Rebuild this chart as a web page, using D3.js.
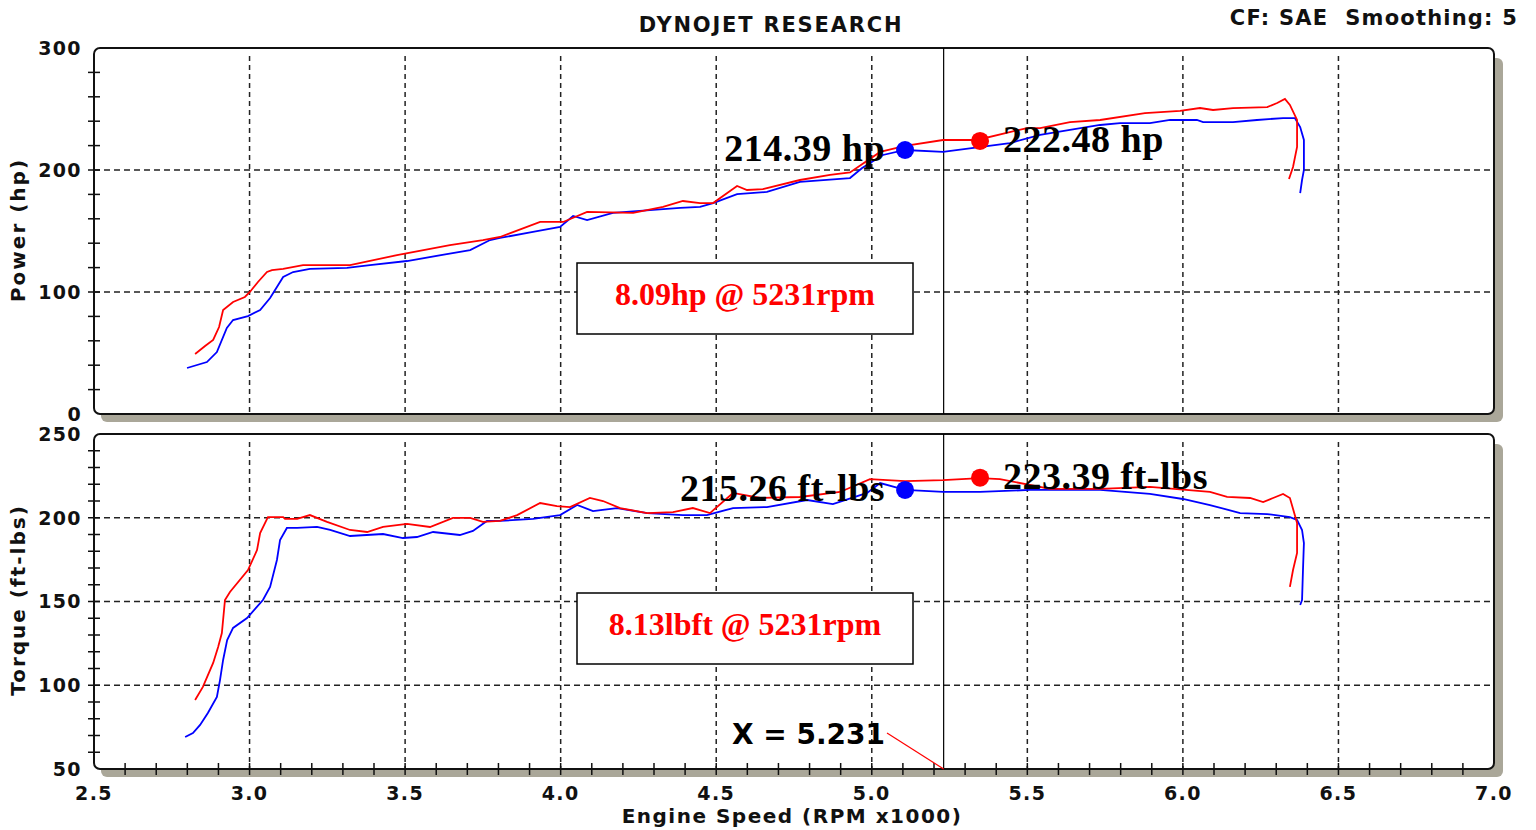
<!DOCTYPE html>
<html>
<head>
<meta charset="utf-8">
<script src="https://cdn.jsdelivr.net/npm/d3@7"></script>
<style>
  body { margin: 0; background: #fff; }
  svg { display: block; }
  .lbl { font-family: "DejaVu Sans", Verdana, sans-serif; font-weight: bold; fill: #111; }
  .big { font-family: "Liberation Serif", "Times New Roman", serif; fill: #000; }
</style>
</head>
<body>
<svg id="chart" width="1536" height="830"></svg>
<script>

// run 1 (blue) and run 2 (red), rpm x1000
var hpBlueRpm = [2.799, 2.863, 2.895, 2.927, 2.947, 2.995, 3.034, 3.066, 3.088, 3.108, 3.140, 3.194, 3.313, 3.387, 3.506, 3.709, 3.773, 3.805, 3.911, 3.998, 4.040, 4.085, 4.168, 4.384, 4.448, 4.490, 4.567, 4.663, 4.769, 4.930, 4.969, 5.036, 5.107, 5.229, 5.444, 5.541, 5.637, 5.734, 5.798, 5.894, 5.959, 6.045, 6.065, 6.161, 6.238, 6.322, 6.360, 6.377, 6.389, 6.389, 6.383, 6.377]
var hpBlue = [37.7, 42.6, 50.8, 70.5, 77.0, 80.3, 85.2, 95.1, 104.1, 112.3, 116.4, 118.9, 119.7, 122.1, 125.4, 134.4, 142.6, 144.3, 149.2, 153.3, 162.3, 159.0, 164.8, 168.9, 169.7, 172.9, 180.3, 182.0, 190.2, 193.4, 201.6, 212.3, 216.4, 214.8, 222.1, 228.7, 232.8, 236.9, 238.5, 238.5, 241.0, 241.0, 239.3, 239.3, 241.0, 242.6, 242.6, 235.2, 224.6, 200.0, 191.8, 181.1]

var hpRedRpm = [2.825, 2.857, 2.883, 2.902, 2.915, 2.947, 2.985, 3.001, 3.027, 3.056, 3.072, 3.108, 3.172, 3.323, 3.474, 3.644, 3.750, 3.805, 3.934, 4.008, 4.085, 4.233, 4.329, 4.393, 4.448, 4.490, 4.567, 4.599, 4.650, 4.769, 4.866, 4.930, 5.027, 5.107, 5.229, 5.338, 5.499, 5.541, 5.637, 5.734, 5.878, 5.991, 6.055, 6.097, 6.161, 6.271, 6.303, 6.328, 6.344, 6.367, 6.367, 6.354, 6.341]
var hpRed = [49.2, 55.7, 60.7, 71.3, 85.2, 91.8, 95.9, 100.0, 108.2, 116.4, 118.0, 118.9, 122.1, 122.1, 130.3, 138.5, 142.6, 145.1, 157.4, 157.4, 165.6, 164.8, 169.7, 174.6, 172.9, 172.9, 186.9, 183.6, 184.4, 191.8, 196.0, 198.0, 214.8, 219.7, 224.6, 224.6, 234.4, 234.4, 239.3, 241.0, 246.7, 248.4, 250.8, 249.2, 250.8, 251.6, 254.9, 258.2, 253.3, 241.0, 218.9, 202.5, 192.6]

var tqBlueRpm = [2.793, 2.818, 2.841, 2.866, 2.895, 2.905, 2.915, 2.928, 2.947, 2.992, 3.043, 3.066, 3.088, 3.098, 3.120, 3.153, 3.217, 3.259, 3.323, 3.429, 3.493, 3.538, 3.590, 3.676, 3.718, 3.763, 3.805, 3.911, 3.998, 4.053, 4.104, 4.181, 4.278, 4.393, 4.470, 4.554, 4.663, 4.792, 4.875, 4.985, 5.027, 5.107, 5.229, 5.348, 5.509, 5.734, 5.894, 6.000, 6.087, 6.184, 6.271, 6.344, 6.367, 6.383, 6.389, 6.386, 6.383, 6.377]
var tqBlue = [69.1, 71.5, 76.3, 83.4, 93.0, 103.1, 115.1, 127.0, 134.2, 140.1, 150.9, 158.7, 174.8, 186.7, 193.9, 193.9, 194.5, 192.7, 189.1, 190.3, 187.9, 188.5, 191.5, 189.7, 192.1, 198.1, 198.1, 199.3, 201.6, 207.6, 204.0, 205.8, 202.8, 201.6, 201.6, 205.8, 206.4, 210.6, 208.2, 214.8, 220.7, 216.6, 215.4, 215.4, 216.6, 216.6, 214.2, 211.2, 207.6, 202.8, 202.2, 200.4, 198.7, 192.7, 184.9, 168.8, 150.9, 147.9]

var tqRedRpm = [2.825, 2.850, 2.883, 2.899, 2.911, 2.921, 2.937, 2.995, 3.024, 3.034, 3.059, 3.108, 3.114, 3.153, 3.194, 3.249, 3.323, 3.378, 3.429, 3.506, 3.580, 3.654, 3.709, 3.750, 3.805, 3.860, 3.934, 3.988, 4.030, 4.094, 4.136, 4.191, 4.278, 4.361, 4.425, 4.480, 4.554, 4.641, 4.769, 4.898, 4.994, 5.107, 5.229, 5.348, 5.412, 5.573, 5.734, 5.894, 6.087, 6.142, 6.216, 6.258, 6.290, 6.322, 6.344, 6.367, 6.367, 6.354, 6.344]
var tqRed = [91.2, 99.0, 113.3, 122.8, 131.2, 150.9, 155.7, 168.8, 180.7, 190.9, 200.4, 200.4, 199.3, 199.3, 201.6, 197.5, 192.7, 191.5, 194.5, 196.3, 194.5, 199.9, 199.9, 197.5, 198.1, 201.6, 208.8, 207.0, 206.4, 211.8, 210.0, 205.8, 202.8, 203.4, 205.8, 202.8, 214.8, 211.8, 212.4, 215.4, 223.1, 221.9, 222.5, 223.7, 223.1, 217.2, 217.2, 218.4, 215.4, 212.4, 211.8, 209.4, 211.8, 214.2, 211.8, 196.9, 179.0, 168.8, 158.7]

// peak markers
var markRpm = [5.107, 5.348]
var markHp = [216.4, 223.8]
var markTq = [216.6, 223.9]
var markHpText = ["214.39 hp", "222.48 hp"]
var markTqText = ["215.26 ft-lbs", "223.39 ft-lbs"]
var markColor = ["#0000ff", "#ff0000"]

var cursorX = 5.231
var diffText = ["8.09hp @ 5231rpm", "8.13lbft @ 5231rpm"]

var xTicks = [2.5, 3.0, 3.5, 4.0, 4.5, 5.0, 5.5, 6.0, 6.5, 7.0]
var hpTicks = [0, 100, 200, 300]
var tqTicks = [50, 100, 150, 200, 250]


var svg = d3.select('#chart')

var x = d3.scaleLinear().domain([2.5, 7]).range([94, 1494])
var yHp = d3.scaleLinear().domain([0, 300]).range([414, 48])
var yTq = d3.scaleLinear().domain([50, 250]).range([769, 434])

var shadow = "#aaa799"

function panel(y, major, minorStep) {
    var top = y.range()[1], bottom = y.range()[0]
    var left = x.range()[0], right = x.range()[1]
    var g = svg.append("g")

    // shadow
    g.append("rect")
        .attr("x", left + 7).attr("y", top + 10)
        .attr("width", right - left + 2).attr("height", bottom - top - 2)
        .attr("rx", 6)
        .attr("fill", shadow)

    g.append("rect")
        .attr("x", left).attr("y", top)
        .attr("width", right - left).attr("height", bottom - top)
        .attr("rx", 6)
        .attr("fill", "#fff")
        .attr("stroke", "#111")
        .attr("stroke-width", 2)

    // grid
    g.selectAll(".vg")
        .data(xTicks.slice(1, -1))
        .enter().append("line")
        .attr("x1", function(d) { return x(d) }).attr("x2", function(d) { return x(d) })
        .attr("y1", top + 8).attr("y2", bottom)
        .attr("stroke", "#222").attr("stroke-width", 1.5)
        .attr("stroke-dasharray", "5,4")

    g.selectAll(".hg")
        .data(major.slice(1, -1))
        .enter().append("line")
        .attr("x1", left).attr("x2", right - 3)
        .attr("y1", function(d) { return y(d) }).attr("y2", function(d) { return y(d) })
        .attr("stroke", "#222").attr("stroke-width", 1.5)
        .attr("stroke-dasharray", "6,4")

    // left ticks
    g.selectAll(".yt")
        .data(d3.range(y.domain()[0] + minorStep, y.domain()[1], minorStep))
        .enter().append("line")
        .attr("x1", left - 6).attr("x2", left + 6)
        .attr("y1", function(d) { return y(d) }).attr("y2", function(d) { return y(d) })
        .attr("stroke", "#111").attr("stroke-width", 1.5)

    g.selectAll(".yl")
        .data(major)
        .enter().append("text")
        .attr("class", "lbl")
        .attr("x", left - 12)
        .attr("y", function(d) { return y(d) })
        .attr("dy", "0.36em")
        .attr("text-anchor", "end")
        .attr("font-size", "19px")
        .attr("letter-spacing", "1.4px")
        .text(function(d) { return d })

    // cursor
    g.append("line")
        .attr("x1", x(cursorX)).attr("x2", x(cursorX))
        .attr("y1", top).attr("y2", bottom)
        .attr("stroke", "#000").attr("stroke-width", 1.2)

    return g
}

var pTop = panel(yHp, hpTicks, 20)
var pBot = panel(yTq, tqTicks, 10)

// bottom x axis ticks
svg.selectAll(".xt")
    .data(d3.range(2.6, 7.0, 0.1))
    .enter().append("line")
    .attr("x1", function(d) { return x(d) }).attr("x2", function(d) { return x(d) })
    .attr("y1", 763).attr("y2", 775)
    .attr("stroke", "#111").attr("stroke-width", 1.5)

svg.selectAll(".xl")
    .data(xTicks)
    .enter().append("text")
    .attr("class", "lbl")
    .attr("x", function(d) { return x(d) })
    .attr("y", 800)
    .attr("text-anchor", "middle")
    .attr("font-size", "19px")
    .attr("letter-spacing", "1.4px")
    .text(function(d) { return d.toFixed(1) })

// curves
function curve(g, xs, ys, y, color) {
    var line = d3.line()
        .x(function(d, i) { return x(xs[i]) })
        .y(function(d) { return y(d) })
    g.append("path")
        .datum(ys)
        .attr("d", line)
        .attr("fill", "none")
        .attr("stroke", color)
        .attr("stroke-width", 1.8)
}

curve(pTop, hpBlueRpm, hpBlue, yHp, "#0000ff")
curve(pTop, hpRedRpm, hpRed, yHp, "#ff0000")
curve(pBot, tqBlueRpm, tqBlue, yTq, "#0000ff")
curve(pBot, tqRedRpm, tqRed, yTq, "#ff0000")

// markers + labels
function marks(g, vals, texts, y) {
    g.selectAll(".mk")
        .data(vals)
        .enter().append("circle")
        .attr("cx", function(d, i) { return x(markRpm[i]) })
        .attr("cy", function(d) { return y(d) })
        .attr("r", 9)
        .attr("fill", function(d, i) { return markColor[i] })

    g.selectAll(".mt")
        .data(vals)
        .enter().append("text")
        .attr("class", "big")
        .attr("x", function(d, i) { return i == 0 ? x(markRpm[i]) - 20 : x(markRpm[i]) + 23 })
        .attr("y", function(d) { return y(d) + 11 })
        .attr("text-anchor", function(d, i) { return i == 0 ? "end" : "start" })
        .attr("font-size", "38px")
        .attr("font-weight", "bold")
        .attr("letter-spacing", "0.5px")
        .text(function(d, i) { return texts[i] })
}

marks(pTop, markHp, markHpText, yHp)
marks(pBot, markTq, markTqText, yTq)

// difference boxes
var boxY = [263, 593]
svg.selectAll(".box")
    .data(diffText)
    .enter().append("rect")
    .attr("x", 577).attr("y", function(d, i) { return boxY[i] })
    .attr("width", 336).attr("height", 71)
    .attr("fill", "#fff")
    .attr("stroke", "#000").attr("stroke-width", 1.5)

svg.selectAll(".boxt")
    .data(diffText)
    .enter().append("text")
    .attr("class", "big")
    .attr("x", 745).attr("y", function(d, i) { return boxY[i] + 42 })
    .attr("text-anchor", "middle")
    .attr("font-size", "32px")
    .attr("font-weight", "bold")
    .style("fill", "#ff0000")
    .text(function(d) { return d })

// cursor readout
svg.append("line")
    .attr("x1", 887).attr("y1", 733)
    .attr("x2", x(cursorX)).attr("y2", 769)
    .attr("stroke", "#ff0000").attr("stroke-width", 1.2)

svg.append("text")
    .attr("class", "lbl")
    .attr("x", 885).attr("y", 744)
    .attr("text-anchor", "end")
    .attr("font-size", "28px")
    .style("fill", "#000")
    .text("X = " + cursorX.toFixed(3))

// titles
svg.append("text")
    .attr("class", "lbl")
    .attr("x", 771).attr("y", 32)
    .attr("text-anchor", "middle")
    .attr("font-size", "21px")
    .attr("letter-spacing", "1.8px")
    .text("DYNOJET RESEARCH")

svg.append("text")
    .attr("class", "lbl")
    .attr("x", 1518).attr("y", 25)
    .attr("text-anchor", "end")
    .attr("font-size", "21px")
    .attr("letter-spacing", "1.2px")
    .style("white-space", "pre")
    .text("CF: SAE  Smoothing: 5")

svg.append("text")
    .attr("class", "lbl")
    .attr("transform", "translate(25,230) rotate(-90)")
    .attr("text-anchor", "middle")
    .attr("font-size", "20px")
    .attr("letter-spacing", "2px")
    .text("Power (hp)")

svg.append("text")
    .attr("class", "lbl")
    .attr("transform", "translate(25,600) rotate(-90)")
    .attr("text-anchor", "middle")
    .attr("font-size", "20px")
    .attr("letter-spacing", "2px")
    .text("Torque (ft-lbs)")

svg.append("text")
    .attr("class", "lbl")
    .attr("x", 792).attr("y", 823)
    .attr("text-anchor", "middle")
    .attr("font-size", "20px")
    .attr("letter-spacing", "1.5px")
    .text("Engine Speed (RPM x1000)")

</script>
</body>
</html>
